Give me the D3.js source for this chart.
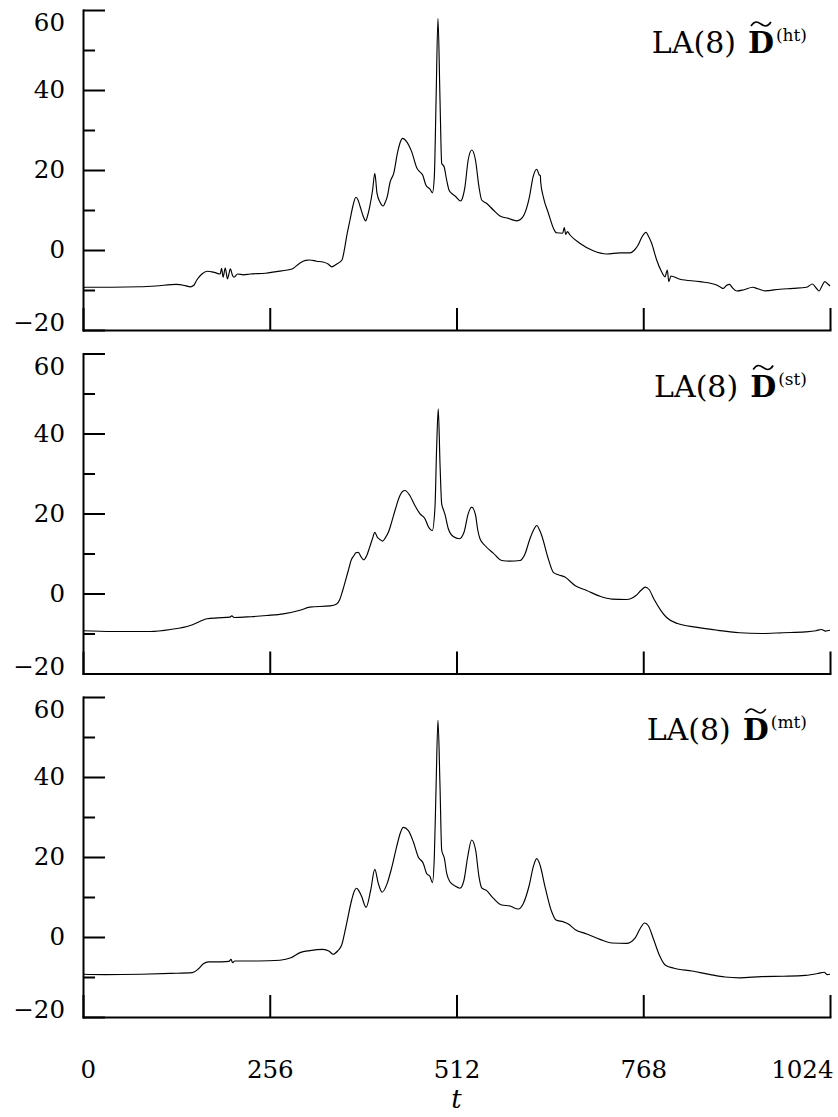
<!DOCTYPE html>
<html><head><meta charset="utf-8">
<script src="https://cdn.jsdelivr.net/npm/d3@7"></script>
<style>body{margin:0;background:#fff}svg{display:block}</style>
</head><body>
<svg id="c" width="838" height="1117"></svg>
<script>
const xTicks = [0, 256, 512, 768, 1024];
const yMajor = [-20, 0, 20, 40, 60];
const yMinor = [-10, 10, 30, 50];
const panelKeys = ["ht", "st", "mt"];
const xLabel = "t";

const htSeries = [[0,-9.4],[3,-9.3],[40,-9.3],[78,-9.2],[100,-9.0],[128,-8.6],[140,-8.9],[147,-9.2],[152,-8.8],[156,-7.5],[163,-6.0],[170,-5.3],[180,-5.6],[188,-6.0],[190,-4.6],[192,-6.8],[195,-4.5],[198,-7.2],[200,-6.0],[202,-4.7],[205,-6.4],[207,-6.8],[212,-6.0],[220,-6.2],[229,-6.0],[250,-5.8],[265,-5.4],[280,-5.0],[288,-4.6],[297,-3.3],[305,-2.6],[311,-2.5],[320,-2.8],[329,-3.0],[336,-3.5],[341,-4.2],[347,-3.6],[355,-2.5],[359,0.8],[362,4],[366,7.5],[370,11],[374,13.2],[377,12.5],[380,10.8],[384,8.5],[387.5,7.3],[390,8.5],[393,10.8],[397,15],[400,19.2],[403,14.2],[407,12],[411.6,11],[414,11.8],[417,13.3],[421,17],[426,19.2],[431,24.2],[435,27],[438,27.9],[443.6,27.1],[450.5,24.6],[458,20.4],[462,19.5],[465.6,18.75],[470,16.25],[475.7,15.2],[479,14.3],[481.6,18.3],[484,37.5],[486.6,57.9],[489.4,37.5],[491.7,21.7],[495,20.8],[498.5,17.5],[501.7,15],[505,14.2],[510,13.5],[517.7,12.25],[521,13.5],[523.6,15.8],[528,22.5],[533,25],[538,22.5],[542.8,15.8],[546.5,12.5],[553,11.7],[562.5,10],[571.6,8.5],[583,7.9],[594.5,7.3],[600,7.7],[604.5,8.75],[612,13.3],[617,18.3],[622,20.2],[625.5,18.75],[627,18.6],[627.4,17],[631,13.3],[638,9.2],[645,5.4],[649,4.3],[657.5,4.2],[659.8,5.6],[661.7,3.9],[664,4.6],[667.6,3.75],[681,1.7],[699.5,-0.2],[718,-1],[736,-0.7],[750,-0.7],[756,0],[761,1.25],[766,3.2],[771.8,4.4],[775,3.5],[779.5,1.7],[786.4,-2.5],[793,-5.4],[797.8,-6.7],[801,-5],[803,-7.9],[806,-6.5],[818.4,-7.3],[845.8,-7.9],[868.6,-8.75],[874,-9.3],[877.7,-9.6],[882,-8.9],[886,-8.6],[891,-9.6],[896,-10.25],[905,-10],[918,-9.3],[925,-9.7],[935,-10.2],[955.4,-9.8],[973.7,-9.6],[992,-9.3],[1000,-8.5],[1005,-9.5],[1009,-10.25],[1013,-9],[1017,-7.9],[1021,-8.5],[1024,-9]];

const stSeries = [[0,-9.3],[40,-9.5],[92,-9.5],[120,-9.0],[147,-8.0],[160,-7.0],[170,-6.3],[185,-6.1],[201.5,-5.9],[204,-5.6],[207,-6.0],[230,-5.8],[252,-5.5],[274.6,-5.1],[297.5,-4.2],[311,-3.4],[338.6,-3.1],[347.7,-2.6],[352,-1.5],[356,0.75],[363.7,5.75],[368,8.5],[371.5,9.5],[374,10.2],[377.5,10.3],[381,9.2],[385,8.4],[389,9.5],[393,11.6],[397,13.8],[400,15.3],[403.4,14.1],[407,13.5],[410.8,13.1],[414,13.8],[418.6,15.3],[423,17.8],[427.7,20.75],[434.5,24.5],[438,25.5],[441.4,25.75],[448,24.5],[455,22],[462,19.9],[468.8,18.7],[473.3,16.75],[478.8,15.75],[482.5,21.6],[484.8,36.6],[487,46.2],[489.4,32.4],[491.7,22.4],[494,21],[496,19.9],[500.8,16.2],[507.6,14.25],[516,13.7],[522.3,15.3],[528,19.9],[532.8,21.6],[538.2,19.5],[541,16],[544.2,13.7],[551,12],[562.4,10.1],[574,8.25],[585,8.1],[599,8.25],[605.9,9.9],[612.7,13.7],[618,16],[622,17],[626,15.8],[628.8,14.5],[637.8,8.7],[644.7,5.3],[651.5,4.7],[660.7,4.1],[674.4,2],[690.5,0.75],[708.7,-0.7],[725,-1.4],[745,-1.5],[758,-0.5],[765,0.8],[771,1.6],[776,1.0],[783,-1.5],[792,-4.2],[800,-6.0],[815,-7.5],[840,-8.4],[870,-9.2],[900,-9.8],[930,-10.0],[960,-9.8],[990,-9.6],[1005,-9.3],[1012,-9.0],[1018,-9.4],[1024,-9.2]];

const mtSeries = [[0,-9.3],[30,-9.4],[80,-9.3],[120,-9.1],[150,-8.9],[158,-8.0],[165,-6.7],[172,-6.2],[190,-6.2],[200,-6.1],[203,-5.6],[205,-6.4],[208,-6.0],[240,-6.0],[270,-5.8],[285,-5.2],[297.5,-3.9],[311,-3.4],[329,-3.1],[337,-3.5],[343,-4.3],[349,-3.5],[354.6,-2],[360.5,2.6],[368.3,9.25],[372,11.5],[375,12.2],[378,11.6],[382,10.1],[388,7.4],[394.4,11.75],[400,16.9],[404.8,13.4],[410,11.2],[417,13.4],[423,17.2],[430,22.6],[435,26],[439,27.4],[446,26.6],[452.8,23.8],[459.6,20],[466.5,18.4],[471,15.9],[475.7,15.1],[479,13.6],[481.6,20],[484,37.6],[486.6,54.25],[489.4,37.6],[491.7,21.75],[495.3,19.7],[498.6,15.9],[503,13.8],[510,12.75],[516.8,12.2],[522.3,14.25],[527.3,20],[532.8,24.25],[538.2,21.75],[542.8,15.1],[546.5,12.3],[553.3,11.6],[562.4,9.7],[574,8],[585.3,7.75],[596.7,7],[603.6,8.4],[611.8,13],[617.3,17.6],[622,19.6],[626.5,18],[633.3,12.6],[642.5,6.3],[648.4,4.25],[658.4,3.8],[665.3,3.25],[674.4,1.9],[690.5,0.75],[708.7,-0.6],[725,-1.5],[745,-1.6],[757,-0.2],[764,2.2],[770,3.5],[775,2.8],[782,-0.5],[790,-4.5],[798,-7.0],[810,-7.8],[835,-8.5],[860,-9.4],[880,-10.0],[900,-10.2],[930,-9.9],[960,-9.8],[990,-9.6],[1008,-9.1],[1016,-8.8],[1020,-9.4],[1024,-9.3]];

const seriesList = [htSeries, stSeries, mtSeries];

const svg = d3.select("#c");
const FONT = "DejaVu Serif, serif";
const left = 83, right = 830, panelH = 320;
const tops = [10, 353.5, 697];
const x = d3.scaleLinear().domain([0, 1024]).range([left, right]);

function styleAxis(sel) {
  sel.attr("font-family", FONT).attr("font-size", 24.5);
  sel.selectAll("line").attr("stroke", "#000").attr("stroke-width", 2);
  sel.selectAll(".domain").attr("stroke", "#000").attr("stroke-width", 2).attr("stroke-linecap", "square");
  sel.selectAll("text").attr("fill", "#000");
}

seriesList.forEach((data, i) => {
  const top = tops[i];
  const y = d3.scaleLinear().domain([-20, 60]).range([top + panelH, top]);
  const g = svg.append("g");

  g.append("g").attr("transform", `translate(${left},0)`)
    .call(d3.axisLeft(y).tickValues(yMinor).tickSize(-12).tickFormat(""))
    .call(s => s.select(".domain").remove())
    .call(styleAxis);

  g.append("g").attr("transform", `translate(${left},0)`)
    .call(d3.axisLeft(y).tickValues(yMajor).tickSize(-22).tickSizeOuter(0).tickPadding(18)
      .tickFormat(d => d < 0 ? "\u2212" + (-d) : String(d)))
    .call(styleAxis)
    .call(s => s.selectAll(".tick text").attr("y", d => d === 60 ? 13 : (d === -20 ? -7 : 0)));

  const xa = g.append("g").attr("transform", `translate(0,${top + panelH})`)
    .call(d3.axisBottom(x).tickValues(xTicks).tickSize(-22).tickSizeOuter(0).tickPadding(44)
      .tickFormat(i === 2 ? (d => String(d)) : ""))
    .call(styleAxis);
  if (i === 2) {
    xa.selectAll(".tick text")
      .attr("text-anchor", d => d === 0 ? "start" : (d === 1024 ? "end" : "middle"))
      .attr("x", d => d === 0 ? -3 : (d === 1024 ? 3 : 0));
  }

  const line = d3.line().x(d => x(d[0])).y(d => y(d[1])).curve(d3.curveMonotoneX);
  g.append("path").datum(data).attr("d", line)
    .attr("fill", "none").attr("stroke", "#000").attr("stroke-width", 1.15).attr("stroke-linejoin", "round");

  // label
  const base = top + 43;
  const rightEdge = 807;
  const sup = g.append("text").attr("x", rightEdge).attr("y", base - 12)
    .attr("text-anchor", "end").attr("font-family", FONT).attr("font-size", 17)
    .text("(" + panelKeys[i] + ")");
  const supW = sup.node().getComputedTextLength();
  const dRight = rightEdge - supW - 2;
  const D = g.append("text").attr("x", dRight).attr("y", base)
    .attr("text-anchor", "end").attr("font-family", FONT).attr("font-size", 30).attr("font-weight", "bold")
    .text("D");
  const dW = D.node().getComputedTextLength();
  const dLeft = dRight - dW;
  g.append("text").attr("x", dLeft - 12).attr("y", base)
    .attr("text-anchor", "end").attr("font-family", FONT).attr("font-size", 30)
    .text("LA(8)");
  const tx0 = dLeft + 3, tx1 = dRight - 3, ty = base - 29, tw = tx1 - tx0;
  g.append("path")
    .attr("d", `M${tx0},${ty + 2} C${tx0 + tw * 0.2},${ty - 4} ${tx0 + tw * 0.35},${ty - 2} ${tx0 + tw * 0.5},${ty} S${tx0 + tw * 0.8},${ty + 4} ${tx1},${ty - 2}`)
    .attr("fill", "none").attr("stroke", "#000").attr("stroke-width", 1.6);
});

svg.append("text").attr("x", x(512)).attr("y", 1108).attr("text-anchor", "middle")
  .attr("font-family", FONT).attr("font-size", 26).attr("font-style", "italic").text(xLabel);
</script>
</body></html>
